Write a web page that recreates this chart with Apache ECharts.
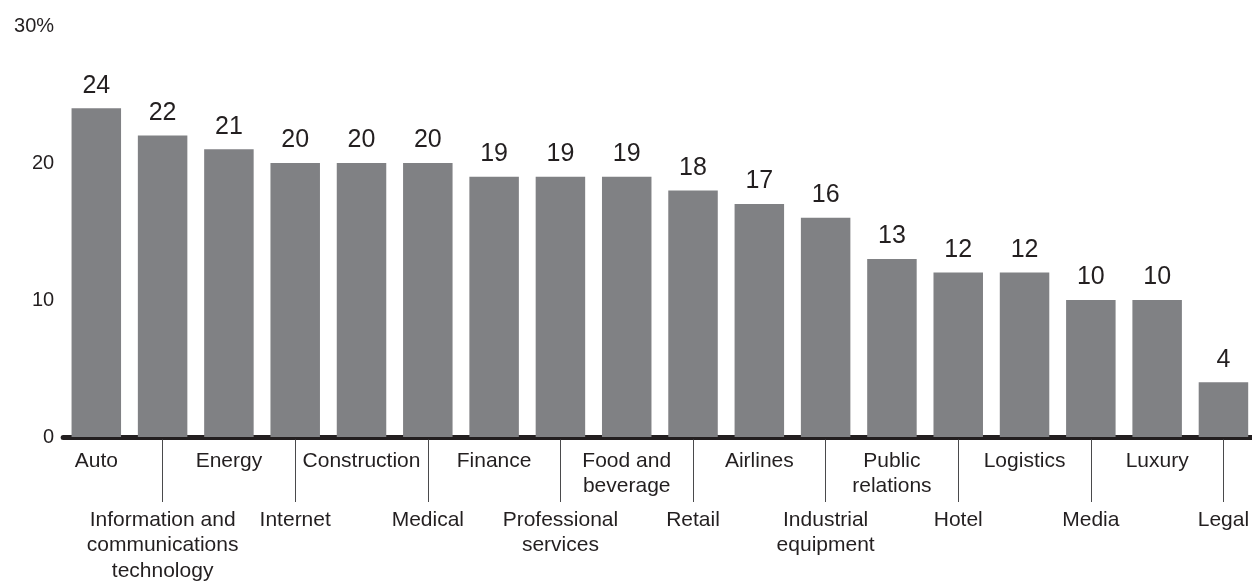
<!DOCTYPE html>
<html>
<head>
<meta charset="utf-8">
<script src="https://cdn.jsdelivr.net/npm/echarts@6/dist/echarts.min.js"></script>
<style>
  html, body { margin: 0; padding: 0; background: #ffffff; }
  #chart { width: 1252px; height: 582px; }
</style>
</head>
<body>
<div id="chart"></div>
<script>
// Industries, in descending order of share
const categories = [
  'Auto',
  'Information and\ncommunications\ntechnology',
  'Energy',
  'Internet',
  'Construction',
  'Medical',
  'Finance',
  'Professional\nservices',
  'Food and\nbeverage',
  'Retail',
  'Airlines',
  'Industrial\nequipment',
  'Public\nrelations',
  'Hotel',
  'Logistics',
  'Media',
  'Luxury',
  'Legal'
];

// Share per industry, percent
const shares = [24, 22, 21, 20, 20, 20, 19, 19, 19, 18, 17, 16, 13, 12, 12, 10, 10, 4];

// Value-axis ticks
const yTicks = [0, 10, 20, 30];

const FONT = "'Liberation Sans', Arial, Helvetica, sans-serif";
const INK = '#231f20';
const BAR = '#808184';

const chart = echarts.init(document.getElementById('chart'), null, { renderer: 'canvas' });

const upperRow = (i) => i % 2 === 0;
const lowerRow = (i) => i % 2 === 1;

const option = {
  animation: false,
  backgroundColor: '#ffffff',
  grid: {
    left: 63.15,
    right: -4.6,
    top: 26,
    bottom: 145,
    containLabel: false,
    outerBoundsMode: 'none'
  },
  xAxis: [
    {
      // axis line plus the first row of labels
      type: 'category',
      data: categories,
      position: 'bottom',
      offset: 2.5,
      axisLine: { show: true, lineStyle: { color: INK, width: 5 } },
      axisTick: { show: false },
      splitLine: { show: false },
      axisLabel: {
        interval: upperRow,
        margin: 8.5,
        fontSize: 21,
        lineHeight: 25.7,
        color: INK,
        fontFamily: FONT
      }
    },
    {
      // second row of labels with leader ticks
      type: 'category',
      data: categories,
      position: 'bottom',
      offset: 2.5,
      axisLine: { show: false },
      axisTick: {
        show: true,
        interval: lowerRow,
        alignWithLabel: true,
        length: 62.5,
        lineStyle: { color: '#4a4a4c', width: 1 }
      },
      splitLine: { show: false },
      axisLabel: {
        interval: lowerRow,
        margin: 67.6,
        fontSize: 21,
        lineHeight: 25.7,
        color: INK,
        fontFamily: FONT
      }
    }
  ],
  yAxis: {
    type: 'value',
    min: yTicks[0],
    max: yTicks[yTicks.length - 1],
    interval: yTicks[1] - yTicks[0],
    axisLine: { show: false },
    axisTick: { show: false },
    splitLine: { show: false },
    axisLabel: {
      margin: 9,
      fontSize: 20,
      color: INK,
      fontFamily: FONT,
      formatter: (v) => (v === yTicks[yTicks.length - 1] ? v + '%' : String(v))
    }
  },
  series: [
    {
      type: 'bar',
      xAxisIndex: 0,
      data: shares,
      barWidth: 49.5,
      itemStyle: { color: BAR },
      label: {
        show: true,
        position: 'top',
        distance: 10,
        fontSize: 25,
        color: INK,
        fontFamily: FONT
      }
    }
  ]
};

chart.setOption(option);
</script>
</body>
</html>
